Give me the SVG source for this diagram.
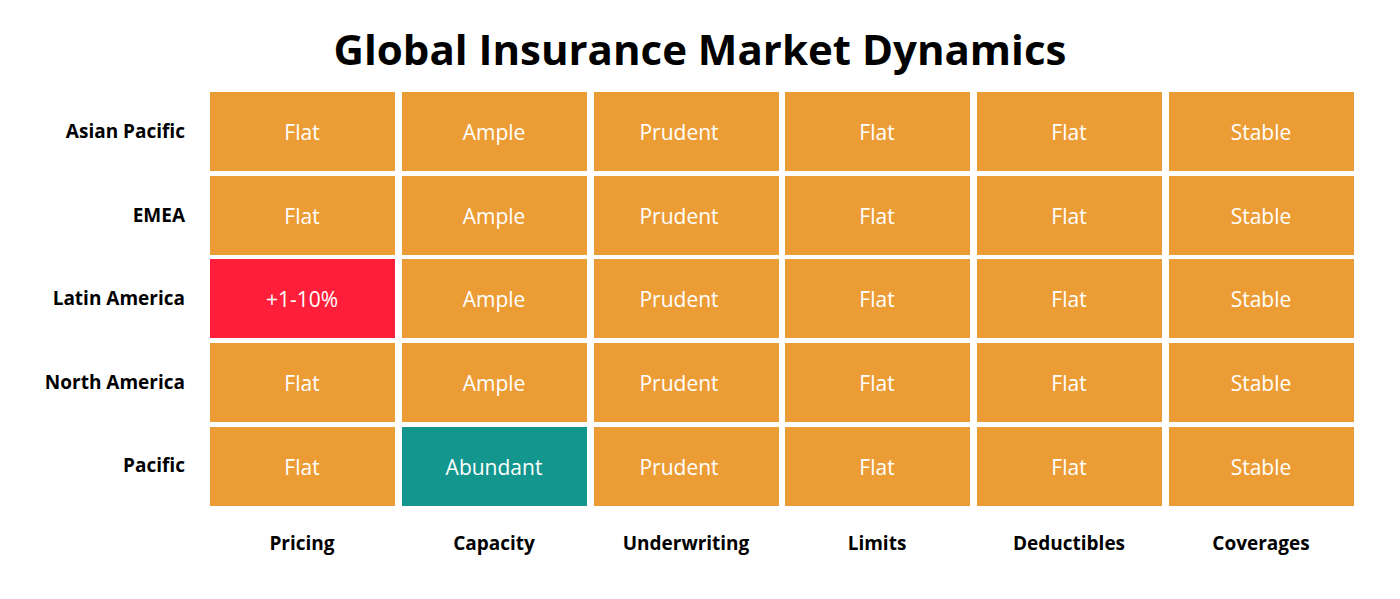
<svg xmlns="http://www.w3.org/2000/svg" width="1400" height="599" viewBox="0 0 1400 599">
<style>
.c{fill:#EC9C35}
.t{font-family:"Open Sans",sans-serif;font-size:21px;fill:#fff;text-anchor:middle;dominant-baseline:central}
.r{font-family:"Open Sans",sans-serif;font-size:19px;font-weight:bold;fill:#000;text-anchor:end;dominant-baseline:central}
.h{font-family:"Open Sans",sans-serif;font-size:19px;font-weight:bold;fill:#000;text-anchor:middle;dominant-baseline:central}
</style>
<rect width="1400" height="599" fill="#fff"/>
<text x="700" y="48" font-family="Open Sans,sans-serif" font-size="42" font-weight="bold" text-anchor="middle" dominant-baseline="central">Global Insurance Market Dynamics</text>
<g id="rowlabels">
<text class="r" x="185" y="131">Asian Pacific</text>
<text class="r" x="185" y="215">EMEA</text>
<text class="r" x="185" y="298">Latin America</text>
<text class="r" x="185" y="382">North America</text>
<text class="r" x="185" y="465">Pacific</text>
</g>
<g id="collabels">
<text class="h" x="302" y="543">Pricing</text>
<text class="h" x="494" y="543">Capacity</text>
<text class="h" x="686" y="543">Underwriting</text>
<text class="h" x="877" y="543">Limits</text>
<text class="h" x="1069" y="543">Deductibles</text>
<text class="h" x="1261" y="543">Coverages</text>
</g>
<g id="grid">
<g id="r0">
<rect class="c" x="210" y="92" width="185" height="79"/><text class="t" x="302" y="132">Flat</text>
<rect class="c" x="402" y="92" width="185" height="79"/><text class="t" x="494" y="132">Ample</text>
<rect class="c" x="594" y="92" width="185" height="79"/><text class="t" x="679" y="132">Prudent</text>
<rect class="c" x="785" y="92" width="185" height="79"/><text class="t" x="877" y="132">Flat</text>
<rect class="c" x="977" y="92" width="185" height="79"/><text class="t" x="1069" y="132">Flat</text>
<rect class="c" x="1169" y="92" width="185" height="79"/><text class="t" x="1261" y="132">Stable</text>
</g>
<g id="r1">
<rect class="c" x="210" y="176" width="185" height="79"/><text class="t" x="302" y="216">Flat</text>
<rect class="c" x="402" y="176" width="185" height="79"/><text class="t" x="494" y="216">Ample</text>
<rect class="c" x="594" y="176" width="185" height="79"/><text class="t" x="679" y="216">Prudent</text>
<rect class="c" x="785" y="176" width="185" height="79"/><text class="t" x="877" y="216">Flat</text>
<rect class="c" x="977" y="176" width="185" height="79"/><text class="t" x="1069" y="216">Flat</text>
<rect class="c" x="1169" y="176" width="185" height="79"/><text class="t" x="1261" y="216">Stable</text>
</g>
<g id="r2">
<rect fill="#FF1F3A" x="210" y="259" width="185" height="79"/><text class="t" x="302" y="299">+1-10%</text>
<rect class="c" x="402" y="259" width="185" height="79"/><text class="t" x="494" y="299">Ample</text>
<rect class="c" x="594" y="259" width="185" height="79"/><text class="t" x="679" y="299">Prudent</text>
<rect class="c" x="785" y="259" width="185" height="79"/><text class="t" x="877" y="299">Flat</text>
<rect class="c" x="977" y="259" width="185" height="79"/><text class="t" x="1069" y="299">Flat</text>
<rect class="c" x="1169" y="259" width="185" height="79"/><text class="t" x="1261" y="299">Stable</text>
</g>
<g id="r3">
<rect class="c" x="210" y="343" width="185" height="79"/><text class="t" x="302" y="383">Flat</text>
<rect class="c" x="402" y="343" width="185" height="79"/><text class="t" x="494" y="383">Ample</text>
<rect class="c" x="594" y="343" width="185" height="79"/><text class="t" x="679" y="383">Prudent</text>
<rect class="c" x="785" y="343" width="185" height="79"/><text class="t" x="877" y="383">Flat</text>
<rect class="c" x="977" y="343" width="185" height="79"/><text class="t" x="1069" y="383">Flat</text>
<rect class="c" x="1169" y="343" width="185" height="79"/><text class="t" x="1261" y="383">Stable</text>
</g>
<g id="r4">
<rect class="c" x="210" y="427" width="185" height="79"/><text class="t" x="302" y="467">Flat</text>
<rect fill="#12968D" x="402" y="427" width="185" height="79"/><text class="t" x="494" y="467">Abundant</text>
<rect class="c" x="594" y="427" width="185" height="79"/><text class="t" x="679" y="467">Prudent</text>
<rect class="c" x="785" y="427" width="185" height="79"/><text class="t" x="877" y="467">Flat</text>
<rect class="c" x="977" y="427" width="185" height="79"/><text class="t" x="1069" y="467">Flat</text>
<rect class="c" x="1169" y="427" width="185" height="79"/><text class="t" x="1261" y="467">Stable</text>
</g>
</g>
</svg>
